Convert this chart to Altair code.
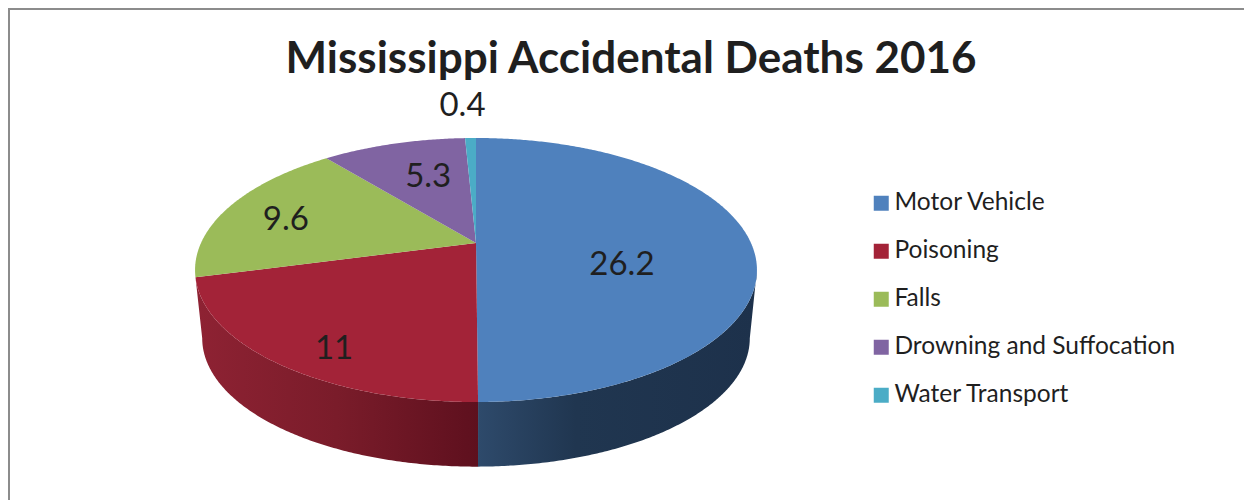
import numpy as np
import altair as alt

categories = ["Motor Vehicle", "Poisoning", "Falls", "Drowning and Suffocation", "Water Transport"]
values = [26.2, 11, 9.6, 5.3, 0.4]
colors = ["#4F81BD", "#A32338", "#9BBB59", "#8064A2", "#4BACC6"]
label_nudge_x = [-19, -31, -39, 5, -10]
label_nudge_y = [22, 39, 0, -2.5, -69]

TITLE = "Mississippi Accidental Deaths 2016"
FONT = "Lato"
INK = "#1f1f1f"

# perspective view of a disc, in page pixels
CX, CY, RX, RY, K = 476.0, 243.0, 275.0, 126.5, 0.2046
BCY, BRX, BRY = 312.0, 268.0, 123.0


def project(r, deg, cy=CY, rx=RX, ry=RY):
    t = np.radians(deg)
    u, v = r * np.sin(t), r * np.cos(t)
    w = 1 + K * v
    return CX + rx * u / w, cy - ry * v / w


def arc(a, b, **kw):
    n = max(2, int(abs(b - a) * 2) + 1)
    xs, ys = project(1.0, np.linspace(a, b, n), **kw)
    return [[float(x), float(y)] for x, y in zip(xs, ys)]


def feature(name, ring, kind="Polygon"):
    coords = [ring + [ring[0]]] if kind == "Polygon" else ring
    return {"type": "Feature", "properties": {"name": name},
            "geometry": {"type": kind, "coordinates": coords}}


edges = np.concatenate([[0], np.cumsum(values)]) * 360.0 / sum(values)
apex = [CX, CY]
tops = [feature(c, [apex] + arc(edges[i], edges[i + 1])) for i, c in enumerate(categories)]

labels = []
for i, v in enumerate(values):
    x, y = project(0.6, (edges[i] + edges[i + 1]) / 2)
    labels.append({"label": f"{v:g}", "px": float(x + label_nudge_x[i]), "py": float(y + label_nudge_y[i])})

tangent_right = 101.8
tangent_left = 258.2
blue_side = feature("side", arc(tangent_right, edges[1]) +
                    arc(edges[1], tangent_right, cy=BCY, rx=BRX, ry=BRY))
red_side = feature("side", arc(edges[1], edges[2]) +
                   arc(tangent_left, edges[1], cy=BCY, rx=BRX, ry=BRY))
frame = feature("frame", [[9, 500], [9, 9], [1252, 9]], "LineString")

PROJ = dict(type="identity", scale=1, translate=[-8, -8])


def grad(stops):
    return alt.Gradient(gradient="linear", x1=0, x2=1, y1=0, y2=0,
                        stops=[alt.GradientStop(offset=o, color=c) for o, c in stops])


frame_layer = alt.Chart(alt.Data(values=[frame])).mark_geoshape(
    filled=False, stroke="#8C8C8C", strokeWidth=2).project(**PROJ)

blue_layer = alt.Chart(alt.Data(values=[blue_side])).mark_geoshape(
    strokeWidth=0, fill=grad([(0, "#2E4A6B"), (0.35, "#203650"), (1, "#1D314B")])).project(**PROJ)
red_layer = alt.Chart(alt.Data(values=[red_side])).mark_geoshape(
    strokeWidth=0, fill=grad([(0, "#8E2233"), (0.5, "#7A1C2A"), (1, "#5E101E")])).project(**PROJ)

top_layer = alt.Chart(alt.Data(values=tops)).mark_geoshape(strokeWidth=0).encode(
    color=alt.Color(
        "properties.name:N",
        scale=alt.Scale(domain=categories, range=colors),
        legend=alt.Legend(
            title=None, orient="none", legendX=861, legendY=183,
            symbolType="square", symbolSize=225, symbolStrokeWidth=0,
            labelFont=FONT, labelFontSize=24.5, labelColor=INK, labelOffset=1,
            rowPadding=23, labelLimit=400),
    )
).project(**PROJ)

text_layer = alt.Chart(alt.Data(values=labels)).mark_text(
    font=FONT, fontSize=33, color=INK, baseline="middle", align="center"
).encode(longitude="px:Q", latitude="py:Q", text="label:N").project(**PROJ)

chart = alt.layer(frame_layer, blue_layer, red_layer, top_layer, text_layer).properties(
    width=1236, height=492, padding=0, autosize="none",
    title=alt.TitleParams(TITLE, font=FONT, fontSize=44, fontWeight="bold", color=INK,
                          anchor="middle", baseline="alphabetic", offset=-109, dx=5),
).configure_view(stroke=None)

chart.save("out.html", embed_options={"renderer": "svg", "actions": False})
